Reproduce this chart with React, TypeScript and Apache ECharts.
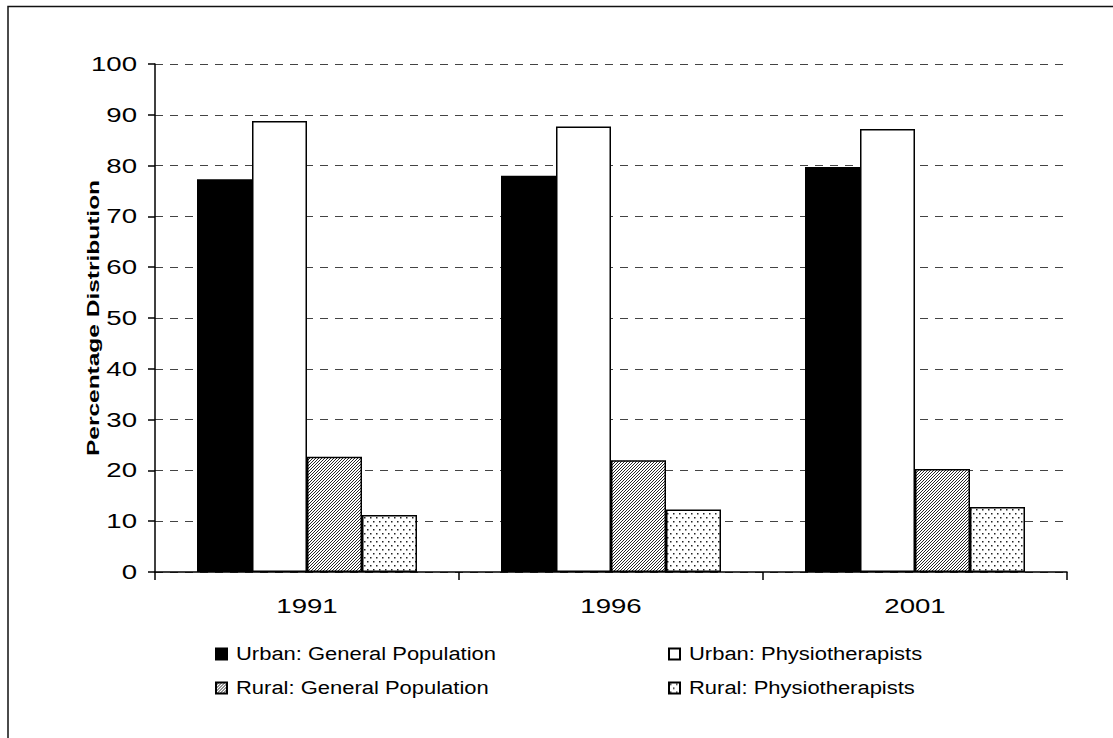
import React, { useEffect, useRef } from "react";
import * as echarts from "echarts";

const categories = ["1991", "1996", "2001"];
const urbanGeneral = [77.3, 78.0, 79.7];
const urbanPhysio = [88.8, 87.7, 87.2];
const ruralGeneral = [22.7, 22.0, 20.3];
const ruralPhysio = [11.2, 12.3, 12.8];
const seriesNames = [
  "Urban: General Population",
  "Urban: Physiotherapists",
  "Rural: General Population",
  "Rural: Physiotherapists",
];
const yMin = 0;
const yMax = 100;
const yInterval = 10;
const yAxisTitle = "Percentage Distribution";

const FONT = "'Liberation Sans', Arial, sans-serif";

function hatchPattern(): HTMLCanvasElement {
  const c = document.createElement("canvas");
  c.width = 6;
  c.height = 6;
  const ctx = c.getContext("2d")!;
  ctx.fillStyle = "#fff";
  ctx.fillRect(0, 0, 6, 6);
  ctx.strokeStyle = "#000";
  ctx.lineWidth = 0.85;
  for (let o = -6; o <= 12; o += 3) {
    ctx.beginPath();
    ctx.moveTo(o, 6);
    ctx.lineTo(o + 6, 0);
    ctx.stroke();
  }
  return c;
}

function dotPattern(): HTMLCanvasElement {
  const c = document.createElement("canvas");
  c.width = 6;
  c.height = 8;
  const ctx = c.getContext("2d")!;
  ctx.fillStyle = "#fff";
  ctx.fillRect(0, 0, 6, 8);
  ctx.fillStyle = "#222";
  ctx.fillRect(1, 1, 1.5, 1.5);
  ctx.fillRect(4, 5, 1.5, 1.5);
  return c;
}

function stretchTexts(root: HTMLElement) {
  const texts = root.querySelectorAll("svg text");
  texts.forEach((node) => {
    const t = node as SVGTextElement;
    if (t.getAttribute("data-stretched")) return;
    const s = (t.textContent || "").trim();
    if (!s) return;
    let k = 1.22;
    if (/^\d+$/.test(s)) k = 1.38;
    else if (s === yAxisTitle) k = 1.44;
    const len = t.getComputedTextLength();
    if (len > 0) {
      t.setAttribute("data-stretched", "1");
      t.setAttribute("textLength", String(len * k));
      t.setAttribute("lengthAdjust", "spacingAndGlyphs");
    }
  });
}

export default function App() {
  const ref = useRef<HTMLDivElement>(null);

  useEffect(() => {
    if (!ref.current) return;
    const chart = echarts.init(ref.current, undefined, { renderer: "svg" });
    const hatch = hatchPattern();
    const dots = dotPattern();

    const barBase = {
      type: "bar" as const,
      barWidth: 55,
      barGap: "0%",
    };

    const legendBase = {
      icon: "rect",
      itemWidth: 11,
      itemHeight: 11,
      padding: 0,
      selectedMode: false,
      textStyle: { fontSize: 18, color: "#000", fontFamily: FONT, padding: [0, 0, 0, 4] },
    };

    chart.setOption({
      animation: false,
      backgroundColor: "#fff",
      graphic: [
        {
          type: "rect",
          silent: true,
          z: -10,
          shape: { x: 8, y: 6.5, width: 1300, height: 900 },
          style: { fill: "none", stroke: "#111", lineWidth: 1.5 },
        },
      ],
      grid: { left: 155, right: 46, top: 64, bottom: 166, containLabel: false },
      legend: [
        { ...legendBase, data: [seriesNames[0]], left: 215, top: 645 },
        { ...legendBase, data: [seriesNames[1]], left: 668, top: 645 },
        { ...legendBase, data: [seriesNames[2]], left: 215, top: 679 },
        { ...legendBase, data: [seriesNames[3]], left: 668, top: 679 },
      ],
      xAxis: {
        type: "category",
        data: categories,
        axisLine: { show: true, lineStyle: { color: "#000", width: 1.5 } },
        axisTick: { show: true, length: 8, lineStyle: { color: "#000", width: 1.5 } },
        axisLabel: { fontSize: 20, color: "#000", margin: 24, fontFamily: FONT },
        splitLine: { show: false },
      },
      yAxis: {
        type: "value",
        min: yMin,
        max: yMax,
        interval: yInterval,
        name: yAxisTitle,
        nameLocation: "middle",
        nameGap: 53,
        nameMoveOverlap: false,
        nameRotate: 90,
        nameTextStyle: { fontSize: 17, fontWeight: "bold", color: "#000", fontFamily: FONT },
        axisLine: { show: true, lineStyle: { color: "#000", width: 1.5 } },
        axisTick: { show: true, length: 7, lineStyle: { color: "#000", width: 1.5 } },
        axisLabel: { fontSize: 20, color: "#000", margin: 18, fontFamily: FONT },
        splitLine: { show: true, lineStyle: { type: [8, 7], color: "#444", width: 1 } },
      },
      series: [
        {
          ...barBase,
          name: seriesNames[0],
          data: urbanGeneral,
          itemStyle: { color: "#000", borderColor: "#000", borderWidth: 1.5 },
        },
        {
          ...barBase,
          name: seriesNames[1],
          data: urbanPhysio,
          itemStyle: { color: "#fff", borderColor: "#000", borderWidth: 1.5 },
        },
        {
          ...barBase,
          name: seriesNames[2],
          data: ruralGeneral,
          itemStyle: {
            color: { image: hatch, repeat: "repeat" },
            borderColor: "#000",
            borderWidth: 1.5,
          },
        },
        {
          ...barBase,
          name: seriesNames[3],
          data: ruralPhysio,
          itemStyle: {
            color: { image: dots, repeat: "repeat" },
            borderColor: "#000",
            borderWidth: 1.5,
          },
        },
      ],
    });

    stretchTexts(ref.current);
    const onFinished = () => ref.current && stretchTexts(ref.current);
    chart.on("finished", onFinished);

    return () => {
      chart.dispose();
    };
  }, []);

  return (
    <div
      ref={ref}
      style={{ position: "absolute", left: 0, top: 0, width: 1113, height: 738, background: "#fff" }}
    />
  );
}
